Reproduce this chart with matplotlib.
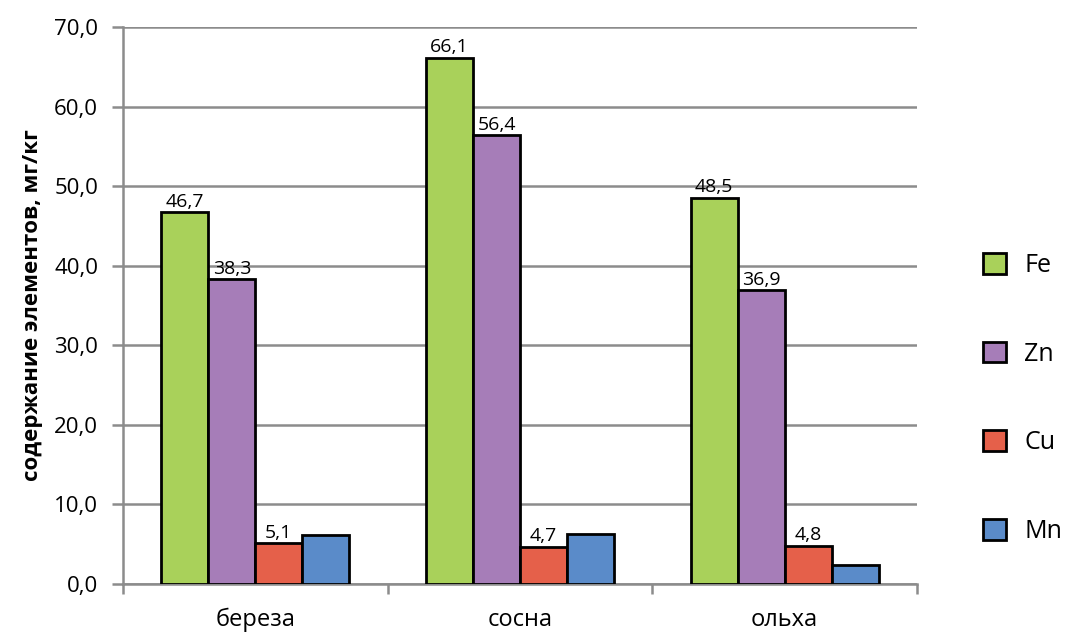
import numpy as np
import matplotlib.pyplot as plt

plt.rcParams['font.family'] = ['Open Sans', 'DejaVu Sans']

trees = ["береза", "сосна", "ольха"]
elements = ["Fe", "Zn", "Cu", "Mn"]
fe = [46.7, 66.1, 48.5]
zn = [38.3, 56.4, 36.9]
cu = [5.1, 4.7, 4.8]
mn = [6.2, 6.3, 2.4]
colors = ["#A9D15A", "#A67DB8", "#E5604A", "#5A8BC9"]
labelled = [True, True, True, False]

series = [fe, zn, cu, mn]

fig = plt.figure(figsize=(10.7, 6.33), dpi=100)
ax = fig.add_axes([0.115, 0.0774, 0.742, 0.88])

x = np.arange(len(trees))
w = 0.1776
for i, vals in enumerate(series):
    pos = x + (i - 1.5) * w
    ax.bar(pos, vals, w, color=colors[i], edgecolor="black", linewidth=2,
           label=elements[i], zorder=3)
    if labelled[i]:
        for xp, v in zip(pos, vals):
            ax.text(xp, v + 0.2, f"{v:.1f}".replace(".", ","), ha="center", va="bottom",
                    fontsize=14, zorder=4)

ax.set_xlim(-0.5, 2.5)
ax.set_ylim(0, 70)
ax.set_yticks(np.arange(0, 71, 10))
ax.set_yticklabels([f"{v:.1f}".replace(".", ",") for v in np.arange(0, 71, 10)], fontsize=16)
ax.yaxis.grid(True, color="#8c8c8c", linewidth=1.8, zorder=0)
ax.set_axisbelow(True)

ax.set_xticks([-0.5, 0.5, 1.5, 2.5])
ax.set_xticklabels([])
ax.set_xticks(x, minor=True)
ax.set_xticklabels(trees, minor=True, fontsize=17)
ax.tick_params(axis="x", which="minor", length=0, pad=17)
ax.tick_params(axis="x", which="major", length=7, width=1.8, color="#8c8c8c")
ax.tick_params(axis="y", length=8, width=1.8, color="#8c8c8c", pad=10)

for side in ["top", "right"]:
    ax.spines[side].set_visible(False)
for side in ["left", "bottom"]:
    ax.spines[side].set_color("#8c8c8c")
    ax.spines[side].set_linewidth(1.8)

ax.set_ylabel("содержание элементов, мг/кг", fontsize=16, fontweight="bold", labelpad=8)

ax.legend(loc="center left", bbox_to_anchor=(1.055, 0.333), frameon=False, fontsize=18,
          handlelength=0.9, handleheight=0.9, labelspacing=2.55, handletextpad=0.75)

fig.savefig("out.png", dpi=100)
